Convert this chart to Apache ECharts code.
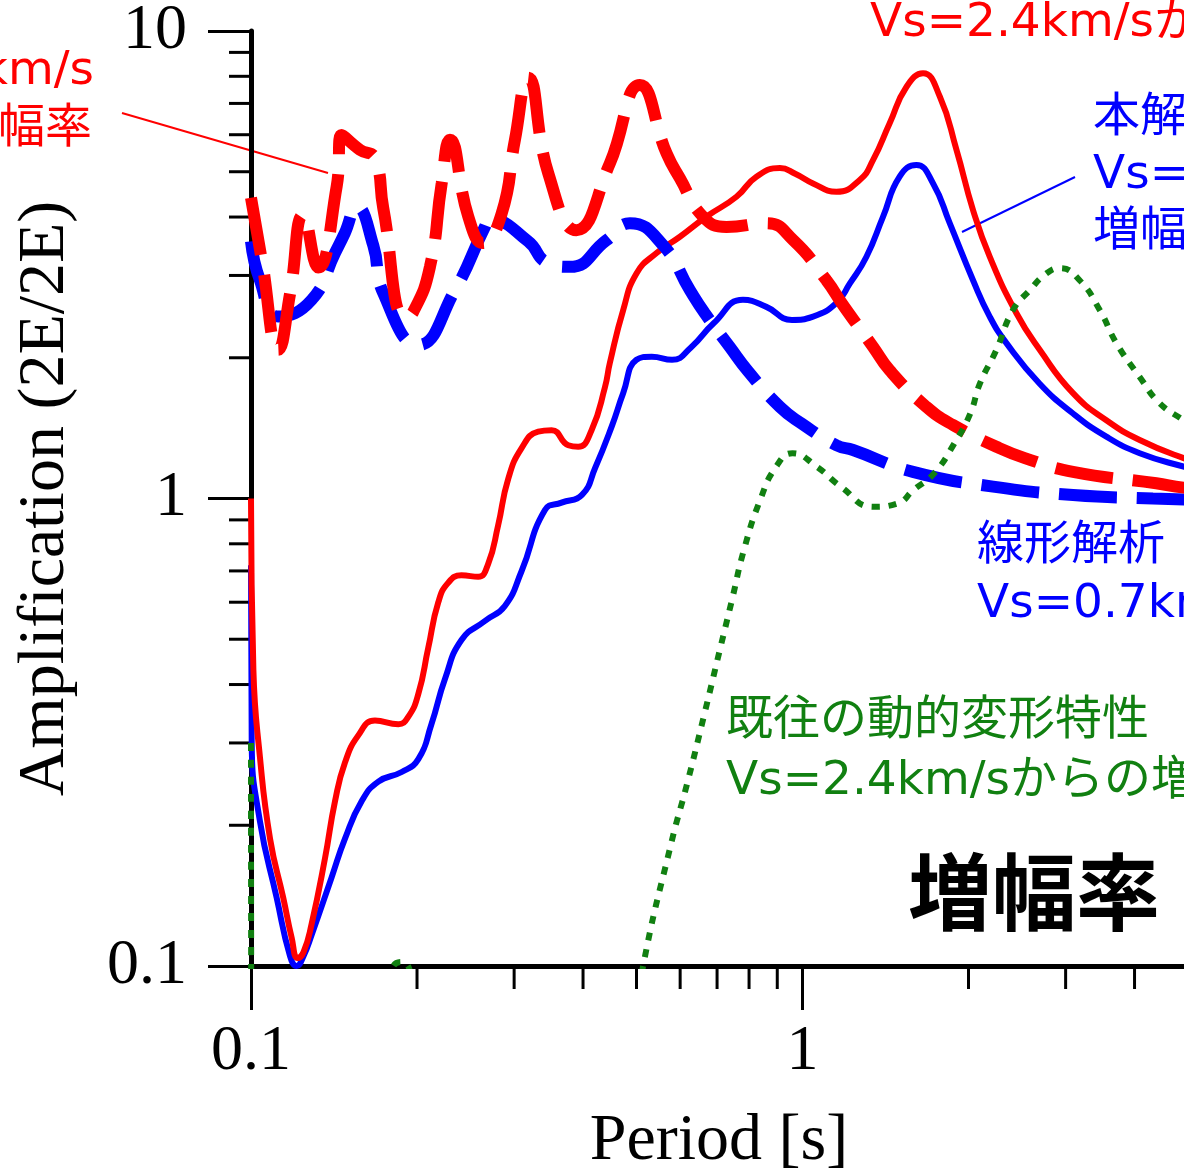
<!DOCTYPE html>
<html>
<head>
<meta charset="utf-8">
<title>Amplification</title>
<script src="https://cdn.jsdelivr.net/npm/echarts@6/dist/echarts.min.js"></script>
<style>
  html, body { margin: 0; padding: 0; background: #fff; }
  #main { width: 1184px; height: 1174px; }
</style>
</head>
<body>
<div id="main"></div>
<script>
// 本解析 Vs=2.4km/s (red solid)
var redSolid = [[0.1,1.0],[0.101,0.43],[0.1038,0.28],[0.1083,0.187],[0.1144,0.14],[0.1185,0.115],[0.1215,0.104],[0.1245,0.107],
  [0.1288,0.123],[0.1362,0.17],[0.142,0.225],[0.148,0.272],[0.1564,0.311],[0.1678,0.335],[0.185,0.329],[0.1928,0.341],
  [0.2011,0.382],[0.2096,0.479],[0.2186,0.6],[0.2277,0.66],[0.2408,0.685],[0.2582,0.68],[0.2692,0.725],[0.2806,0.876],
  [0.2926,1.1],[0.3093,1.28],[0.3317,1.39],[0.3508,1.4],[0.3761,1.3],[0.392,1.29],[0.4145,1.4],[0.4383,1.73],[0.4474,1.95],
  [0.473,2.53],[0.5,3.03],[0.5437,3.35],[0.5994,3.63],[0.67,4.01],[0.759,4.42],[0.825,4.88],[0.91,5.09],[0.97,4.95],
  [1.045,4.72],[1.152,4.53],[1.27,4.8],[1.343,5.3],[1.439,6.35],[1.544,7.6],[1.654,8.12],[1.774,7.24],[1.902,5.57],
  [2.038,4.14],[2.185,3.29],[2.443,2.49],[2.692,2.08],[3.094,1.68],[3.556,1.47],[4.087,1.334],[4.91,1.22],[6,1.13]];

// 本解析 Vs=0.7km/s (blue solid)
var blueSolid = [[0.1,0.72],[0.1003,0.3],[0.1038,0.204],[0.1113,0.14],[0.1177,0.105],[0.121,0.1],[0.1245,0.105],
  [0.1288,0.1165],[0.14,0.1547],[0.148,0.187],[0.1587,0.225],[0.1702,0.248],[0.1876,0.26],[0.2011,0.277],[0.2124,0.329],
  [0.2249,0.412],[0.2408,0.498],[0.2655,0.547],[0.2886,0.589],[0.3093,0.698],[0.3412,0.945],[0.3657,0.98],[0.3982,1.018],
  [0.4207,1.162],[0.4513,1.43],[0.473,1.68],[0.5,1.98],[0.533,2.01],[0.58,1.98],[0.629,2.11],[0.69,2.37],[0.78,2.66],
  [0.86,2.57],[0.957,2.41],[1.045,2.45],[1.152,2.62],[1.218,2.88],[1.306,3.29],[1.4,4.01],[1.5,4.88],[1.609,5.17],
  [1.725,4.72],[1.849,3.88],[2.038,2.93],[2.185,2.45],[2.343,2.15],[2.692,1.76],[3.094,1.52],[3.556,1.356],[4.087,1.25],
  [4.91,1.17],[6,1.1]];

// 線形解析 Vs=2.4km/s (red dashed)
var redDashed = [[0.1,4.4],[0.1046,3.24],[0.1121,2.08],[0.1177,2.74],[0.1244,4.04],[0.1324,3.12],[0.143,4.65],[0.146,5.99],
  [0.1576,5.57],[0.1678,5.34],[0.1737,4.18],[0.19,2.45],[0.1966,2.5],[0.2111,3.13],[0.2217,4.72],[0.2295,5.85],[0.2477,4.01],
  [0.2634,3.52],[0.2848,4.07],[0.301,5.85],[0.318,7.95],[0.346,4.96],[0.389,3.75],[0.4474,5.21],[0.507,7.66],[0.567,5.47],
  [0.5994,4.84],[0.66,4.01],[0.728,3.81],[0.86,3.88],[0.962,3.57],[1.105,2.93],[1.185,2.59],[1.343,2.11],[1.439,1.88],
  [1.678,1.57],[1.875,1.436],[2.247,1.29],[2.53,1.22],[3.094,1.14],[4.38,1.078],[4.91,1.055],[6,1.04]];

// 線形解析 Vs=0.7km/s (blue dashed)
var blueDashed = [[0.1,3.55],[0.1038,2.93],[0.1121,2.45],[0.1288,2.66],[0.142,3.35],[0.148,3.7],[0.1555,4.21],[0.1666,3.48],
  [0.1737,2.75],[0.201,2.13],[0.2343,2.79],[0.2655,3.81],[0.2712,3.95],[0.318,3.55],[0.3436,3.2],[0.3786,3.13],[0.4413,3.57],
  [0.4864,3.88],[0.5588,3.48],[0.6249,2.79],[0.6651,2.49],[0.738,2.11],[0.797,1.87],[0.91,1.57],[0.996,1.447],[1.152,1.3],
  [1.235,1.27],[1.586,1.14],[2.216,1.06],[3.094,1.017],[4.32,1.0],[6,0.99]];

// 既往の動的変形特性 Vs=2.4km/s (green dotted)
var greenDotted = [[0.1,0.3],[0.1003,0.06],[0.17,0.06],[0.18,0.098],[0.187,0.102],[0.194,0.098],[0.21,0.06],[0.48,0.06],
  [0.514,0.1],[0.578,0.183],[0.618,0.246],[0.662,0.341],[0.708,0.474],[0.745,0.607],[0.783,0.776],[0.838,0.993],
  [0.896,1.17],[0.959,1.25],[1.061,1.17],[1.174,1.06],[1.344,0.96],[1.487,0.976],[1.59,1.043],[1.73,1.13],[1.884,1.31],
  [2.015,1.52],[2.097,1.76],[2.247,2.08],[2.408,2.53],[2.582,2.79],[2.769,3.03],[2.927,3.11],[3.18,2.93],[3.459,2.53],
  [3.708,2.15],[4.087,1.82],[4.44,1.6],[4.91,1.47],[6,1.25]];

// minor ticks of the log axes
var xMinorTicks = [0.2,0.3,0.4,0.5,0.6,0.7,0.8,0.9,2,3,4,5,6,7,8,9];
var yMinorTicks = [0.2,0.3,0.4,0.5,0.6,0.7,0.8,0.9,2,3,4,5,6,7,8,9];

var serif = 'Liberation Serif';
var jp = '"DejaVu Sans", "Noto Sans CJK JP"';

var myChart = echarts.init(document.getElementById('main'));

var option = {
  animation: false,
  backgroundColor: '#fff',
  grid: { left: 251, top: 31, width: 1103, height: 935, outerBoundsMode: 'none', containLabel: false },
  xAxis: {
    type: 'log', logBase: 10, min: 0.1, max: 10,
    axisLine: { lineStyle: { color: '#000', width: 5 } },
    axisTick: { length: 44, lineStyle: { color: '#000', width: 3 } },
    axisLabel: { color: '#000', fontFamily: serif, fontSize: 64, margin: 54 },
    splitLine: { show: false }
  },
  yAxis: {
    type: 'log', logBase: 10, min: 0.1, max: 10,
    name: 'Amplification (2E/2E)',
    nameLocation: 'middle',
    nameGap: 172,
    nameTextStyle: { color: '#000', fontFamily: serif, fontSize: 66 },
    axisLine: { lineStyle: { color: '#000', width: 5 } },
    axisTick: { length: 43, lineStyle: { color: '#000', width: 3 } },
    axisLabel: { color: '#000', fontFamily: serif, fontSize: 64, margin: 64 },
    splitLine: { show: false }
  },
  series: [
    {
      type: 'custom', silent: true, clip: false,
      data: xMinorTicks.map(function (v) { return [v, 0.1]; }),
      renderItem: function (params, api) {
        var p = api.coord([api.value(0), api.value(1)]);
        return { type: 'line', shape: { x1: p[0], y1: p[1], x2: p[0], y2: p[1] + 23 },
                 style: { stroke: '#000', lineWidth: 3 } };
      }
    },
    {
      type: 'custom', silent: true, clip: false,
      data: yMinorTicks.map(function (v) { return [0.1, v]; }),
      renderItem: function (params, api) {
        var p = api.coord([api.value(0), api.value(1)]);
        return { type: 'line', shape: { x1: p[0] - 22, y1: p[1], x2: p[0], y2: p[1] },
                 style: { stroke: '#000', lineWidth: 3 } };
      }
    },
    {
      name: 'blueSolid', type: 'line', data: blueSolid, smooth: 0.5, showSymbol: false,
      lineStyle: { color: '#0000ff', width: 6 }
    },
    {
      name: 'redSolid', type: 'line', data: redSolid, smooth: 0.5, showSymbol: false,
      lineStyle: { color: '#ff0000', width: 6 }
    },
    {
      name: 'blueDashed', type: 'line', data: blueDashed, smooth: 0.5, showSymbol: false,
      lineStyle: { color: '#0000ff', width: 12, type: [58, 20] }
    },
    {
      name: 'redDashed', type: 'line', data: redDashed, smooth: 0.5, showSymbol: false,
      lineStyle: { color: '#ff0000', width: 12, type: [58, 20] }
    },
    {
      name: 'greenDotted', type: 'line', data: greenDotted, smooth: 0.5, showSymbol: false,
      lineStyle: { color: '#118011', width: 6, type: [8, 9] }
    }
  ],
  graphic: [
    { type: 'text', x: 719, y: 1142,
      style: { text: 'Period [s]', fill: '#000', font: '66px ' + serif, textAlign: 'center', textVerticalAlign: 'middle' } },
    // red label at the top left
    { type: 'text', x: -190, y: -15,
      style: { text: '線形解析\nVs=2.4km/s\nからの増幅率', fill: '#ff0000', font: '47px ' + jp, lineHeight: 58,
               textAlign: 'left', textVerticalAlign: 'top' } },
    { type: 'line', shape: { x1: 122, y1: 113, x2: 328, y2: 173 }, style: { stroke: '#ff0000', lineWidth: 2 } },
    // red label at the top right
    { type: 'text', x: 870, y: 24,
      style: { text: 'Vs=2.4km/sからの増幅率', fill: '#ff0000', font: '47px ' + jp,
               textAlign: 'left', textVerticalAlign: 'middle' } },
    // blue label (本解析)
    { type: 'text', x: 1093, y: 90,
      style: { text: '本解析\nVs=0.7km/s\n増幅率', fill: '#0000ff', font: '47px ' + jp, lineHeight: 57,
               textAlign: 'left', textVerticalAlign: 'top' } },
    { type: 'line', shape: { x1: 1075, y1: 177, x2: 962, y2: 232 }, style: { stroke: '#0000ff', lineWidth: 2 } },
    // blue label (線形解析)
    { type: 'text', x: 977, y: 518,
      style: { text: '線形解析\nVs=0.7km/s', fill: '#0000ff', font: '47px ' + jp, lineHeight: 58,
               textAlign: 'left', textVerticalAlign: 'top' } },
    // green label
    { type: 'text', x: 726, y: 692,
      style: { text: '既往の動的変形特性\nVs=2.4km/sからの増幅率', fill: '#118011', font: '47px ' + jp, lineHeight: 60,
               textAlign: 'left', textVerticalAlign: 'top' } },
    { type: 'text', x: 1034, y: 892,
      style: { text: '増幅率', fill: '#000', font: 'bold 84px "Noto Sans CJK JP"',
               textAlign: 'center', textVerticalAlign: 'middle' } }
  ]
};

myChart.setOption(option);
</script>
</body>
</html>
